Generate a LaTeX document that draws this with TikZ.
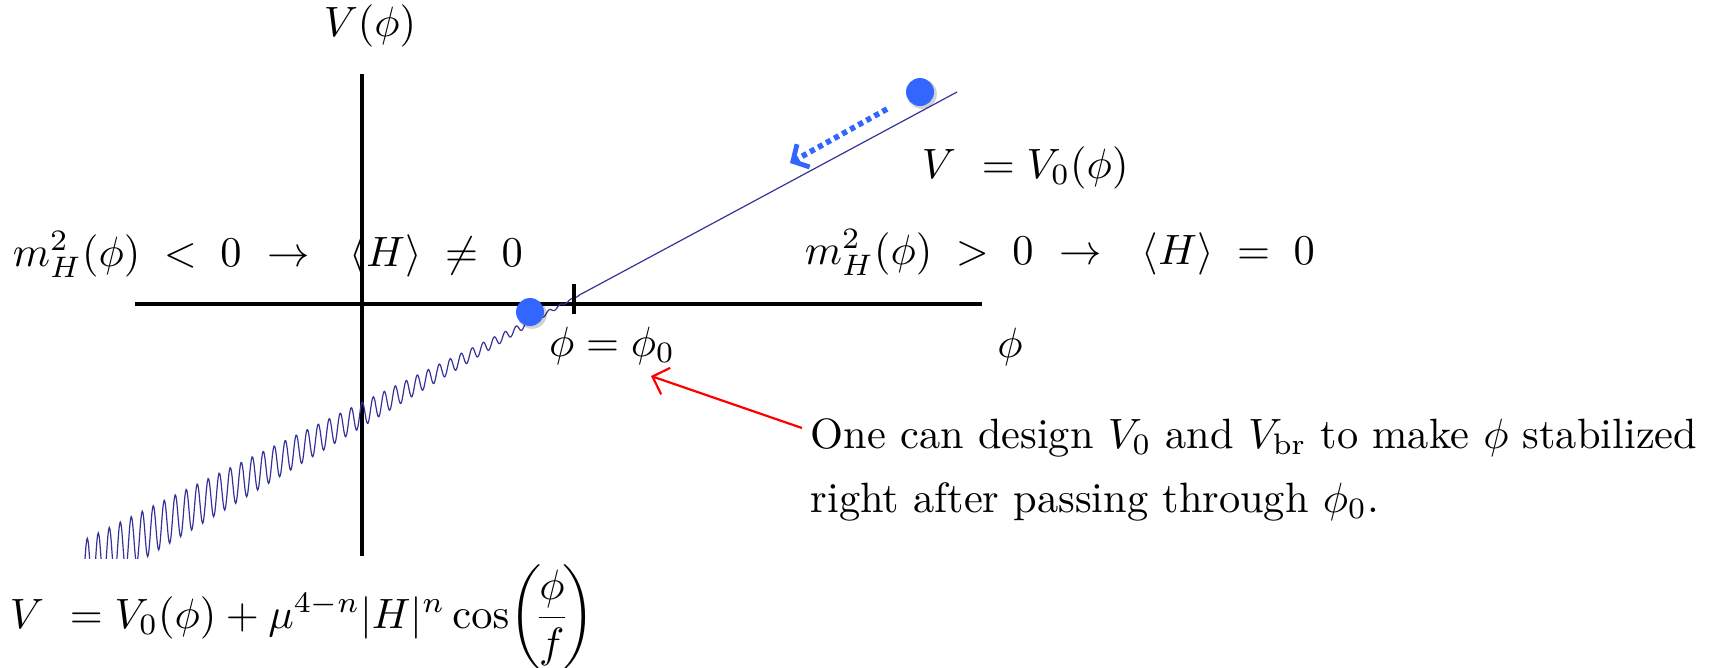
\RequirePackage{fix-cm}
\documentclass[tikz,border=0pt]{standalone}
\usepackage{amsmath}
\usetikzlibrary{arrows.meta}
\definecolor{ballblue}{RGB}{51,102,255}
\definecolor{curveblue}{RGB}{51,51,153}
\begin{document}
\begin{tikzpicture}[x=0.25pt,y=-0.25pt,
  font=\fontsize{10.6}{13}\selectfont,
  axis/.style={line width=0.8pt},
  lbl/.style={inner sep=0pt},
  curve/.style={curveblue, line width=0.3pt},
  ball/.style={circle, fill=ballblue, minimum size=7pt, inner sep=0pt},
  shade/.style={circle, fill=black, opacity=0.18, minimum size=7.4pt, inner sep=0pt},
]
\useasboundingbox (0,0) rectangle (1715,667);
% axes
\coordinate (xl) at (135,304); \coordinate (xr) at (982,304);
\coordinate (yt) at (362,74);  \coordinate (yb) at (362,556);
\draw[axis] (xl) -- (xr);
\draw[axis] (yt) -- (yb);
% potential curve (parameter = number of periods left of phi0)
\begin{scope}
\clip (0,0) rectangle (1715,558);
\draw[curve] plot[domain=0:45.5, samples=730]
  ({585-11*\x}, {292 + 6.05*\x - 0.605*\x*sin(360*mod(\x,1))});
\end{scope}
\coordinate (c0) at (585,292); \coordinate (c1) at (957,92);
\draw[curve] (c0) -- (c1);
% tick at phi0
\coordinate (tk1) at (574,284); \coordinate (tk2) at (574,314);
\draw[line width=1pt] (tk1) -- (tk2);
% balls
\node[shade] at (532,314) {};
\node[ball] (b1) at (530,312) {};
\node[shade] at (922,94) {};
\node[ball] (b2) at (920,92) {};
% rolling arrow
\coordinate (ra1) at (887,109); \coordinate (ra2) at (790,163);
\draw[ballblue, line width=1.4pt, dash pattern=on 1.3pt off 1pt,
  -{Straight Barb[length=3pt,width=6.5pt,line width=1.2pt]}] (ra1) -- (ra2);
% labels
\node[lbl] (Vphi) at (370,26) {$V(\phi)$};
\node[lbl] (phi) at (1010,347) {$\phi$};
\node[lbl] (phi0) at (612,346) {$\phi = \phi_0$};
\node[lbl, anchor=base west] (V0lab) at (921,178) {$V\ = V_0(\phi)$};
\node[lbl, anchor=base west] (mpos) at (804,264)
  {$m_H^2(\phi)\;>\;0\ \rightarrow\ \ \langle H\rangle\;=\;0$};
\node[lbl, anchor=base west] (mneg) at (12,266)
  {$m_H^2(\phi)\;<\;0\ \rightarrow\ \ \langle H\rangle\;\neq\;0$};
\node[lbl, anchor=base west] (formula) at (9,628)
  {$V\ = V_0(\phi) + \mu^{4-n}|H|^n\cos\!\left(\!\dfrac{\phi}{f}\!\right)$};
\node[lbl, anchor=base west] (t1) at (810,448)
  {One can design $V_0$ and $V_{\mathrm{br}}$ to make $\phi$ stabilized};
\node[lbl, anchor=base west] (t2) at (810,512)
  {right after passing through $\phi_0$.};
% red arrow
\coordinate (rs) at (802,428); \coordinate (re) at (651,376);
\draw[red, line width=0.55pt, -{Straight Barb[length=3.5pt,width=7pt]}] (rs) -- (re);
\end{tikzpicture}
\end{document}
